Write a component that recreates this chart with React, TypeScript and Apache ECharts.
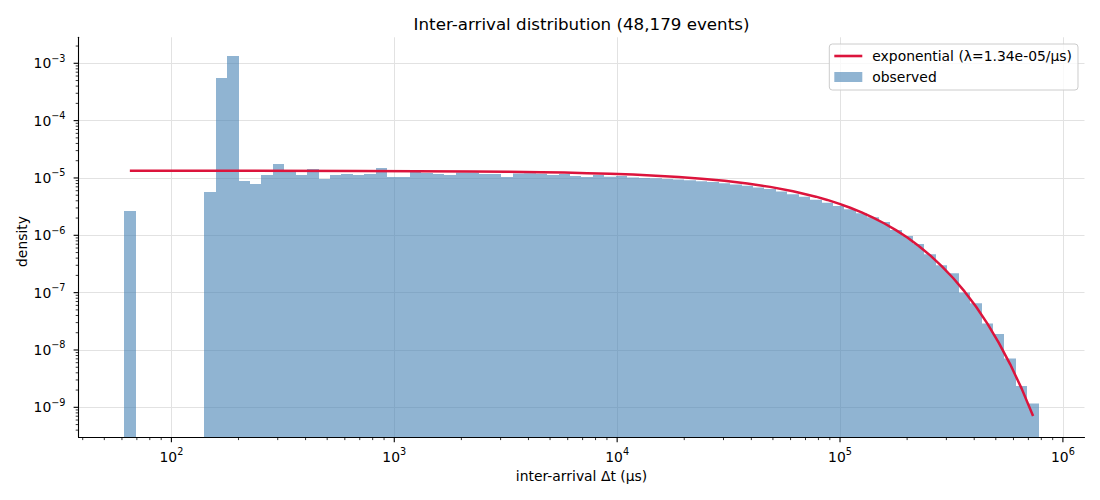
import React, { useEffect, useRef } from "react";
import * as echarts from "echarts";

const TITLE = "Inter-arrival distribution (48,179 events)";
const X_LABEL = "inter-arrival Δt (μs)";
const Y_LABEL = "density";
const LINE_NAME = "exponential (λ=1.34e-05/μs)";
const BAR_NAME = "observed";

// histogram bins (log-spaced between the smallest and largest gap)
const BIN_LO = 61.4;
const BIN_HI = 7.795e5;
const N_BINS = 80;

// observed density per bin
const DENSITY = [
  2.65e-6, 0, 0, 0, 0, 0, 0, 5.7e-6, 5.55e-4, 1.34e-3,
  8.85e-6, 7.85e-6, 1.13e-5, 1.75e-5, 1.33e-5, 1.13e-5, 1.43e-5, 9.6e-6, 1.13e-5, 1.17e-5,
  1.13e-5, 1.17e-5, 1.49e-5, 1.04e-5, 1.04e-5, 1.3e-5, 1.22e-5, 1.17e-5, 1.13e-5, 1.24e-5,
  1.24e-5, 1.17e-5, 1.17e-5, 1.04e-5, 1.2e-5, 1.21e-5, 1.19e-5, 1.13e-5, 1.17e-5, 1.08e-5,
  1.04e-5, 1.13e-5, 1.05e-5, 1.08e-5, 1.02e-5, 1.0e-5, 9.9e-6, 9.6e-6, 9.4e-6, 9.1e-6,
  8.8e-6, 8.5e-6, 8.1e-6, 7.7e-6, 7.3e-6, 6.8e-6, 6.4e-6, 5.8e-6, 5.2e-6, 4.7e-6,
  4.15e-6, 3.7e-6, 3.25e-6, 2.85e-6, 2.42e-6, 2.06e-6, 1.7e-6, 1.24e-6, 9.7e-7, 7.05e-7,
  4.66e-7, 3.0e-7, 2.17e-7, 1.01e-7, 6.5e-8, 2.9e-8, 1.9e-8, 7.1e-9, 2.35e-9, 1.17e-9,
];

// fitted exponential curve
const FIT_X = [
  65.1, 212.2, 691.5, 2253, 3211, 4576, 5796, 7339, 9297, 11773, 14911, 18884, 23915,
  30288, 38360, 48584, 61526, 77925, 87700, 98696, 111080, 125010, 140650, 158300,
  178160, 200450, 225620, 253850, 285740, 321600, 361900, 407200, 458400, 515800,
  580300, 653100, 734900,
];
const FIT_Y = [
  1.34e-5, 1.336e-5, 1.328e-5, 1.3e-5, 1.284e-5, 1.26e-5, 1.24e-5, 1.214e-5, 1.183e-5,
  1.1445e-5, 1.097e-5, 1.04e-5, 9.73e-6, 8.93e-6, 8.02e-6, 6.99e-6, 5.88e-6, 4.72e-6,
  4.14e-6, 3.57e-6, 3.02e-6, 2.51e-6, 2.035e-6, 1.607e-6, 1.231e-6, 9.13e-7, 6.52e-7,
  4.47e-7, 2.91e-7, 1.8e-7, 1.05e-7, 5.72e-8, 2.88e-8, 1.33e-8, 5.62e-9, 2.12e-9, 7.07e-10,
];

// axis ranges and ticks
const X_MIN = 38.3;
const X_MAX = 1.25e6;
const Y_MIN = 3.0e-10;
const Y_MAX = 2.84e-3;
const X_MAJOR = [1e2, 1e3, 1e4, 1e5, 1e6];
const X_MINOR = [
  40, 50, 60, 70, 80, 90,
  200, 300, 400, 500, 600, 700, 800, 900,
  2e3, 3e3, 4e3, 5e3, 6e3, 7e3, 8e3, 9e3,
  2e4, 3e4, 4e4, 5e4, 6e4, 7e4, 8e4, 9e4,
  2e5, 3e5, 4e5, 5e5, 6e5, 7e5, 8e5, 9e5,
];
const Y_MAJOR = [1e-9, 1e-8, 1e-7, 1e-6, 1e-5, 1e-4, 1e-3];
const Y_MINOR = [
  4e-10, 5e-10, 6e-10, 7e-10, 8e-10, 9e-10,
  2e-9, 3e-9, 4e-9, 5e-9, 6e-9, 7e-9, 8e-9, 9e-9,
  2e-8, 3e-8, 4e-8, 5e-8, 6e-8, 7e-8, 8e-8, 9e-8,
  2e-7, 3e-7, 4e-7, 5e-7, 6e-7, 7e-7, 8e-7, 9e-7,
  2e-6, 3e-6, 4e-6, 5e-6, 6e-6, 7e-6, 8e-6, 9e-6,
  2e-5, 3e-5, 4e-5, 5e-5, 6e-5, 7e-5, 8e-5, 9e-5,
  2e-4, 3e-4, 4e-4, 5e-4, 6e-4, 7e-4, 8e-4, 9e-4,
  2e-3,
];

const FONT = "'DejaVu Sans', sans-serif";
const BAR_COLOR = "rgba(70,130,180,0.6)";
const RED = "#dc143c";
const GRID_COLOR = "#e2e2e2";

function powLabel(value: number): string {
  const e = Math.log10(value);
  const r = Math.round(e);
  if (Math.abs(e - r) > 1e-6) return "";
  const s = r < 0 ? "\u2212" + String(-r) : String(r);
  return "{b|10}{s|" + s + "}";
}

const richLabel = {
  b: { fontSize: 13.9, fontFamily: FONT, color: "#000", lineHeight: 20 },
  s: { fontSize: 9.7, fontFamily: FONT, color: "#000", lineHeight: 14, verticalAlign: "top" },
};

export default function App() {
  const ref = useRef<HTMLDivElement>(null);

  useEffect(() => {
    if (!ref.current) return;
    const chart = echarts.init(ref.current, undefined, { renderer: "svg" });

    const ratio = BIN_HI / BIN_LO;
    const edges: number[] = [];
    for (let i = 0; i <= N_BINS; i++) edges.push(BIN_LO * Math.pow(ratio, i / N_BINS));
    const barData: number[][] = [];
    DENSITY.forEach((d, i) => {
      if (d > 0) barData.push([edges[i], edges[i + 1], d]);
    });
    const fitData = FIT_X.map((x, i) => [x, FIT_Y[i]]);

    const xTickData = [
      ...X_MAJOR.map((v) => [v, 4.9, 1.1]),
      ...X_MINOR.map((v) => [v, 2.8, 0.8]),
    ];
    const yTickData = [
      ...Y_MAJOR.map((v) => [v, 4.9, 1.1]),
      ...Y_MINOR.map((v) => [v, 2.8, 0.8]),
    ];

    const option: any = {
      animation: false,
      grid: { left: 78.5, right: 15.5, top: 37.3, bottom: 62.7, containLabel: false },
      graphic: [
        {
          type: "text",
          x: 581.5,
          y: 24,
          style: {
            text: TITLE,
            fontSize: 16.7,
            fontFamily: FONT,
            fill: "#000",
            align: "center",
            verticalAlign: "middle",
          },
        },
        {
          type: "text",
          x: 581.5,
          y: 476,
          style: {
            text: X_LABEL,
            fontSize: 13.9,
            fontFamily: FONT,
            fill: "#000",
            align: "center",
            verticalAlign: "middle",
          },
        },
        {
          type: "text",
          x: 21.5,
          y: 241.5,
          rotation: Math.PI / 2,
          style: {
            text: Y_LABEL,
            fontSize: 13.9,
            fontFamily: FONT,
            fill: "#000",
            align: "center",
            verticalAlign: "middle",
          },
        },
      ],
      legend: {
        left: 829.3,
        top: 44,
        orient: "vertical",
        itemWidth: 28,
        itemHeight: 10,
        itemGap: 5,
        padding: [4, 6, 5, 5],
        backgroundColor: "rgba(255,255,255,0.8)",
        borderColor: "#cccccc",
        borderWidth: 1,
        borderRadius: 3,
        selectedMode: false,
        textStyle: {
          fontFamily: FONT,
          fontSize: 13.9,
          color: "#000",
          lineHeight: 16,
          padding: [0, 0, 0, 5],
        },
        data: [
          { name: LINE_NAME, icon: "path://M0,0H28V2.6H0Z" },
          { name: BAR_NAME, icon: "rect" },
        ],
      },
      xAxis: {
        type: "log",
        logBase: 10,
        min: X_MIN,
        max: X_MAX,
        axisLine: { show: true, lineStyle: { color: "#000", width: 1.1 } },
        axisTick: { show: false },
        axisLabel: { margin: 9.5, formatter: powLabel, rich: richLabel },
        splitLine: {
          show: true,
          showMinLine: false,
          showMaxLine: false,
          lineStyle: { color: GRID_COLOR, width: 1 },
        },
      },
      yAxis: {
        type: "log",
        logBase: 10,
        min: Y_MIN,
        max: Y_MAX,
        axisLine: { show: true, lineStyle: { color: "#000", width: 1.1 } },
        axisTick: { show: false },
        axisLabel: { margin: 13, formatter: powLabel, rich: richLabel },
        splitLine: {
          show: true,
          showMinLine: false,
          showMaxLine: false,
          lineStyle: { color: GRID_COLOR, width: 1 },
        },
      },
      series: [
        {
          name: BAR_NAME,
          type: "custom",
          coordinateSystem: "cartesian2d",
          clip: true,
          z: 2,
          itemStyle: { color: BAR_COLOR },
          encode: { x: [0, 1], y: 2 },
          data: barData,
          renderItem: (params: any, api: any) => {
            const x0 = api.value(0);
            const x1 = api.value(1);
            const y = api.value(2);
            const p0 = api.coord([x0, y]);
            const p1 = api.coord([x1, y]);
            const cs = params.coordSys;
            const bottom = cs.y + cs.height;
            const left = Math.round(p0[0]);
            const right = Math.round(p1[0]);
            return {
              type: "rect",
              shape: { x: left, y: p0[1], width: right - left, height: bottom - p0[1] },
              style: { fill: BAR_COLOR },
            };
          },
        },
        {
          name: LINE_NAME,
          type: "line",
          z: 3,
          symbol: "none",
          showSymbol: false,
          color: RED,
          itemStyle: { color: RED },
          lineStyle: { color: RED, width: 2.5 },
          data: fitData,
        },
        {
          name: "xticks",
          type: "custom",
          coordinateSystem: "cartesian2d",
          clip: false,
          silent: true,
          z: 5,
          encode: { x: 0 },
          data: xTickData,
          renderItem: (params: any, api: any) => {
            const p = api.coord([api.value(0), Y_MAX]);
            const cs = params.coordSys;
            const b = cs.y + cs.height;
            return {
              type: "line",
              shape: { x1: p[0], y1: b, x2: p[0], y2: b + api.value(1) },
              style: { stroke: "#000", lineWidth: api.value(2) },
            };
          },
        },
        {
          name: "yticks",
          type: "custom",
          coordinateSystem: "cartesian2d",
          clip: false,
          silent: true,
          z: 5,
          encode: { y: 0 },
          data: yTickData.map((d) => [X_MAX, d[0], d[1], d[2]]),
          renderItem: (params: any, api: any) => {
            const p = api.coord([X_MAX, api.value(1)]);
            const cs = params.coordSys;
            const l = cs.x;
            return {
              type: "line",
              shape: { x1: l, y1: p[1], x2: l - api.value(2), y2: p[1] },
              style: { stroke: "#000", lineWidth: api.value(3) },
            };
          },
        },
      ],
    };

    chart.setOption(option);
    return () => chart.dispose();
  }, []);

  return (
    <div
      ref={ref}
      style={{ position: "absolute", left: 0, top: 0, width: 1100, height: 500 }}
    />
  );
}
